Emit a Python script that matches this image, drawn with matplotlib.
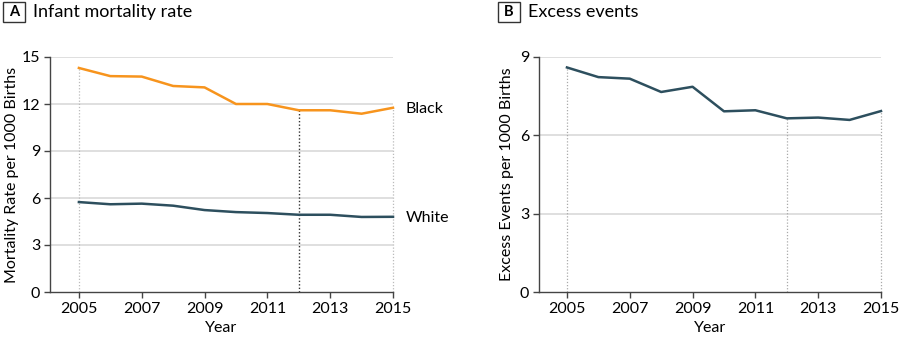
import matplotlib.pyplot as plt
from matplotlib.patches import Rectangle

plt.rcParams['font.family'] = ['Lato', 'DejaVu Sans']

years = [2005, 2006, 2007, 2008, 2009, 2010, 2011, 2012, 2013, 2014, 2015]
black_rate = [14.3, 13.78, 13.75, 13.15, 13.06, 12.0, 12.0, 11.6, 11.6, 11.38, 11.76]
white_rate = [5.74, 5.6, 5.64, 5.51, 5.23, 5.1, 5.04, 4.93, 4.93, 4.79, 4.8]
excess = [8.6, 8.23, 8.17, 7.66, 7.86, 6.92, 6.96, 6.65, 6.68, 6.59, 6.93]
xticks = [2005, 2007, 2009, 2011, 2013, 2015]

orange = '#F7941D'
teal = '#2D4F5E'
grid_c = '#DCDCDC'
spine_c = '#444444'
fs = 11.5

fig = plt.figure(figsize=(9, 3.4), dpi=100)
axA = fig.add_axes([50 / 900, 1 - 292 / 340, 343 / 900, 235 / 340])
axB = fig.add_axes([539 / 900, 1 - 292 / 340, 342 / 900, 235 / 340])


def style(ax, ymax, step):
    ax.set_xlim(2004.08, 2015)
    ax.set_ylim(0, ymax)
    ax.set_yticks(range(0, ymax + 1, step))
    ax.set_xticks(xticks)
    for s in ['top', 'right']:
        ax.spines[s].set_visible(False)
    for s in ['left', 'bottom']:
        ax.spines[s].set_color(spine_c)
        ax.spines[s].set_linewidth(1.0)
    for y in range(step, ymax + 1, step):
        ax.axhline(y, color=grid_c, lw=1.3, zorder=0)
    ax.tick_params(length=4, width=1, color=spine_c, labelsize=fs, pad=3)
    ax.set_xlabel('Year', fontsize=fs, labelpad=4)


def panel_title(x0, letter, text):
    fig.patches.append(Rectangle((x0 / 900, 1 - 22 / 340), 22 / 900, 20 / 340,
                                 transform=fig.transFigure, fill=False,
                                 edgecolor='#333333', lw=1.0))
    fig.text((x0 + 11) / 900, 1 - 12 / 340, letter, ha='center', va='center',
             fontsize=10.5, fontweight='bold')
    fig.text((x0 + 30) / 900, 1 - 12 / 340, text, ha='left', va='center',
             fontsize=13)


dots = (0, (1, 1.5))

# panel A: infant mortality by race
style(axA, 15, 3)
axA.vlines([2005, 2015], 0, [black_rate[0], black_rate[-1]], colors='#BBBBBB',
           linestyles=dots, lw=0.9, zorder=1, clip_on=False)
axA.vlines(2012, 0, black_rate[7], colors='#333333',
           linestyles=dots, lw=1.0, zorder=1)
axA.plot(years, black_rate, color=orange, lw=1.8, zorder=3, clip_on=False)
axA.plot(years, white_rate, color=teal, lw=1.8, zorder=3, clip_on=False)
axA.text(2015.4, black_rate[-1], 'Black', fontsize=fs, va='center_baseline')
axA.text(2015.4, white_rate[-1], 'White', fontsize=fs, va='center_baseline')
axA.set_ylabel('Mortality Rate per 1000 Births', fontsize=fs, labelpad=2)
panel_title(3, 'A', 'Infant mortality rate')

# panel B: excess events
style(axB, 9, 3)
axB.set_xlim(2004.11, 2015)
axB.vlines([2005, 2012, 2015], 0, [excess[0], excess[7], excess[-1]],
           colors='#AAAAAA', linestyles=dots, lw=0.9, zorder=1, clip_on=False)
axB.plot(years, excess, color=teal, lw=1.8, zorder=3, clip_on=False)
axB.set_ylabel('Excess Events per 1000 Births', fontsize=fs, labelpad=4)
panel_title(498, 'B', 'Excess events')

fig.savefig('out.png', dpi=100)
